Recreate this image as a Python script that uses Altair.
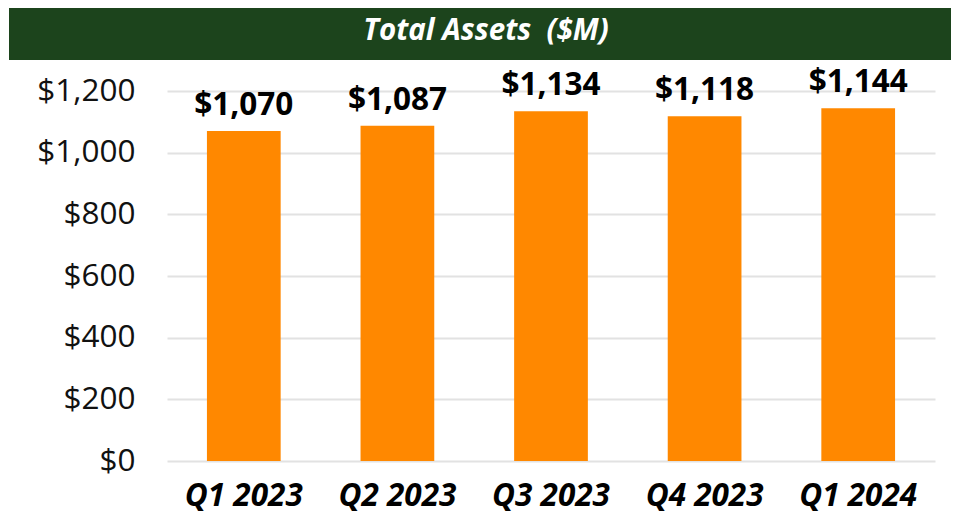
import altair as alt
import pandas as pd

quarters = ["Q1 2023", "Q2 2023", "Q3 2023", "Q4 2023", "Q1 2024"]
assets = [1070, 1087, 1134, 1118, 1144]
y_ticks = [0, 200, 400, 600, 800, 1000, 1200]
title_text = "Total Assets\u00a0\u00a0($M)"

df = pd.DataFrame({"quarter": quarters, "assets": assets})
df["label"] = ["$" + format(v, ",") for v in assets]

FONT = "Open Sans"
W, H = 768, 370

x_enc = alt.X(
    "quarter:N",
    sort=quarters,
    scale=alt.Scale(paddingInner=0.52, paddingOuter=0.26),
    axis=alt.Axis(
        title=None, labelAngle=0, ticks=False, domain=False, grid=False,
        labelFont=FONT, labelFontSize=31.5, labelFontWeight="bold",
        labelFontStyle="italic", labelColor="#000000", labelPadding=44,
        labelBaseline="alphabetic",
    ),
)
y_enc = alt.Y(
    "assets:Q",
    scale=alt.Scale(domain=[0, 1200], nice=False),
    axis=alt.Axis(
        title=None, values=y_ticks, format="$,.0f", ticks=False, domain=False,
        labelFont=FONT, labelFontSize=31.5, labelColor="#111111", labelPadding=32,
        gridColor="#e2e2e2", gridWidth=2,
    ),
)

bars = alt.Chart(df).mark_bar(color="#ff8800").encode(x=x_enc, y=y_enc)
labels = alt.Chart(df).mark_text(
    font=FONT, fontSize=31.5, fontWeight="bold", color="#000000",
    baseline="alphabetic", dy=-16,
).encode(x=alt.X("quarter:N", sort=quarters), y="assets:Q", text="label:N")

banner_df = pd.DataFrame({"t": [title_text]})
banner = alt.Chart(banner_df).mark_rect(color="#1c441c").encode(
    x=alt.value(-158), x2=alt.value(800), y=alt.value(-90), y2=alt.value(-31)
)
title = alt.Chart(banner_df).mark_text(
    font=FONT, fontSize=29.5, fontWeight="bold", fontStyle="italic",
    color="#ffffff", baseline="alphabetic", align="center",
).encode(x=alt.value(319), y=alt.value(-51.5), text="t:N")

chart = (
    alt.layer(banner, title, bars, labels)
    .properties(
        width=W, height=H,
        background="#ffffff",
        autosize=alt.AutoSizeParams(type="none"),
        padding={"left": 159, "top": 83, "right": 16, "bottom": 54},
    )
    .configure_view(strokeWidth=0, stroke="transparent")
)

chart.save("out.html", embed_options={"renderer": "svg", "actions": False})
